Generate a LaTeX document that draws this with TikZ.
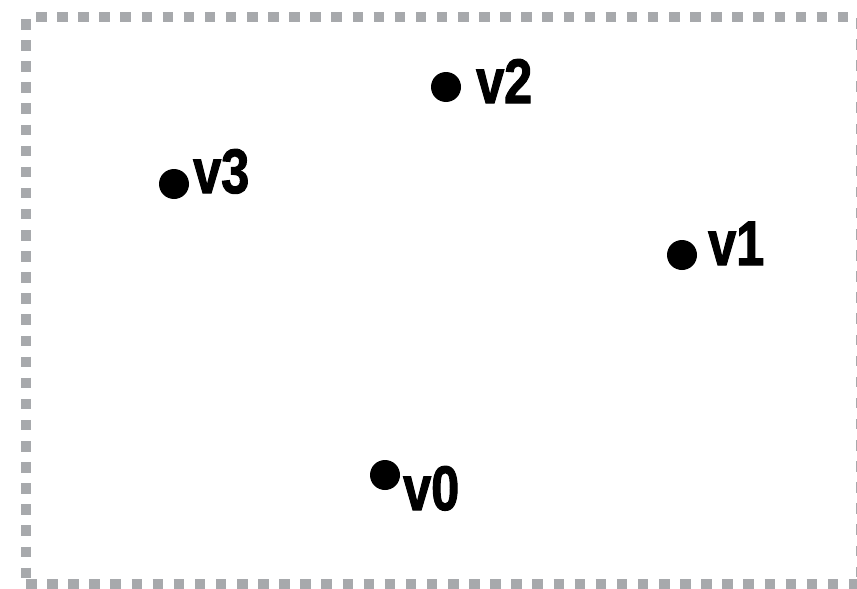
\documentclass[tikz,border=0pt]{standalone}
\usepackage{fontspec}
\newfontfamily\vlabelfont[FakeStretch=0.8, FakeBold=1.6]{Liberation Sans}
\usetikzlibrary{positioning}

\definecolor{framegray}{RGB}{167,169,172}

\tikzset{
  vertex/.style={circle, fill=black, minimum size=30pt, inner sep=0pt},
  vlabel/.style={anchor=base west, inner sep=0pt,
    font=\vlabelfont\bfseries\fontsize{63}{70}\selectfont},
  frame/.style={draw=framegray, line width=10pt, dash pattern=on 10.5pt off 10.6pt}
}

\begin{document}
\begin{tikzpicture}[x=1pt, y=-1pt]

\useasboundingbox (0,0) rectangle (857,589);

% dashed frame, one side at a time
\draw[frame] (26,584) -- (861,584)
             (36,17) -- (861,17)
             (26,19) -- (26,584)
             (861,18) -- (861,584);

% points
\node[vertex] (v0) at (385,475) {};
\node[vertex] (v1) at (682,255) {};
\node[vertex] (v2) at (446,87) {};
\node[vertex] (v3) at (174,184) {};

% labels
\node[vlabel] (l0) at (403,510) {v0};
\node[vlabel] (l1) at (708,265) {v1};
\node[vlabel] (l2) at (476,103) {v2};
\node[vlabel] (l3) at (193,193) {v3};

\end{tikzpicture}
\end{document}
